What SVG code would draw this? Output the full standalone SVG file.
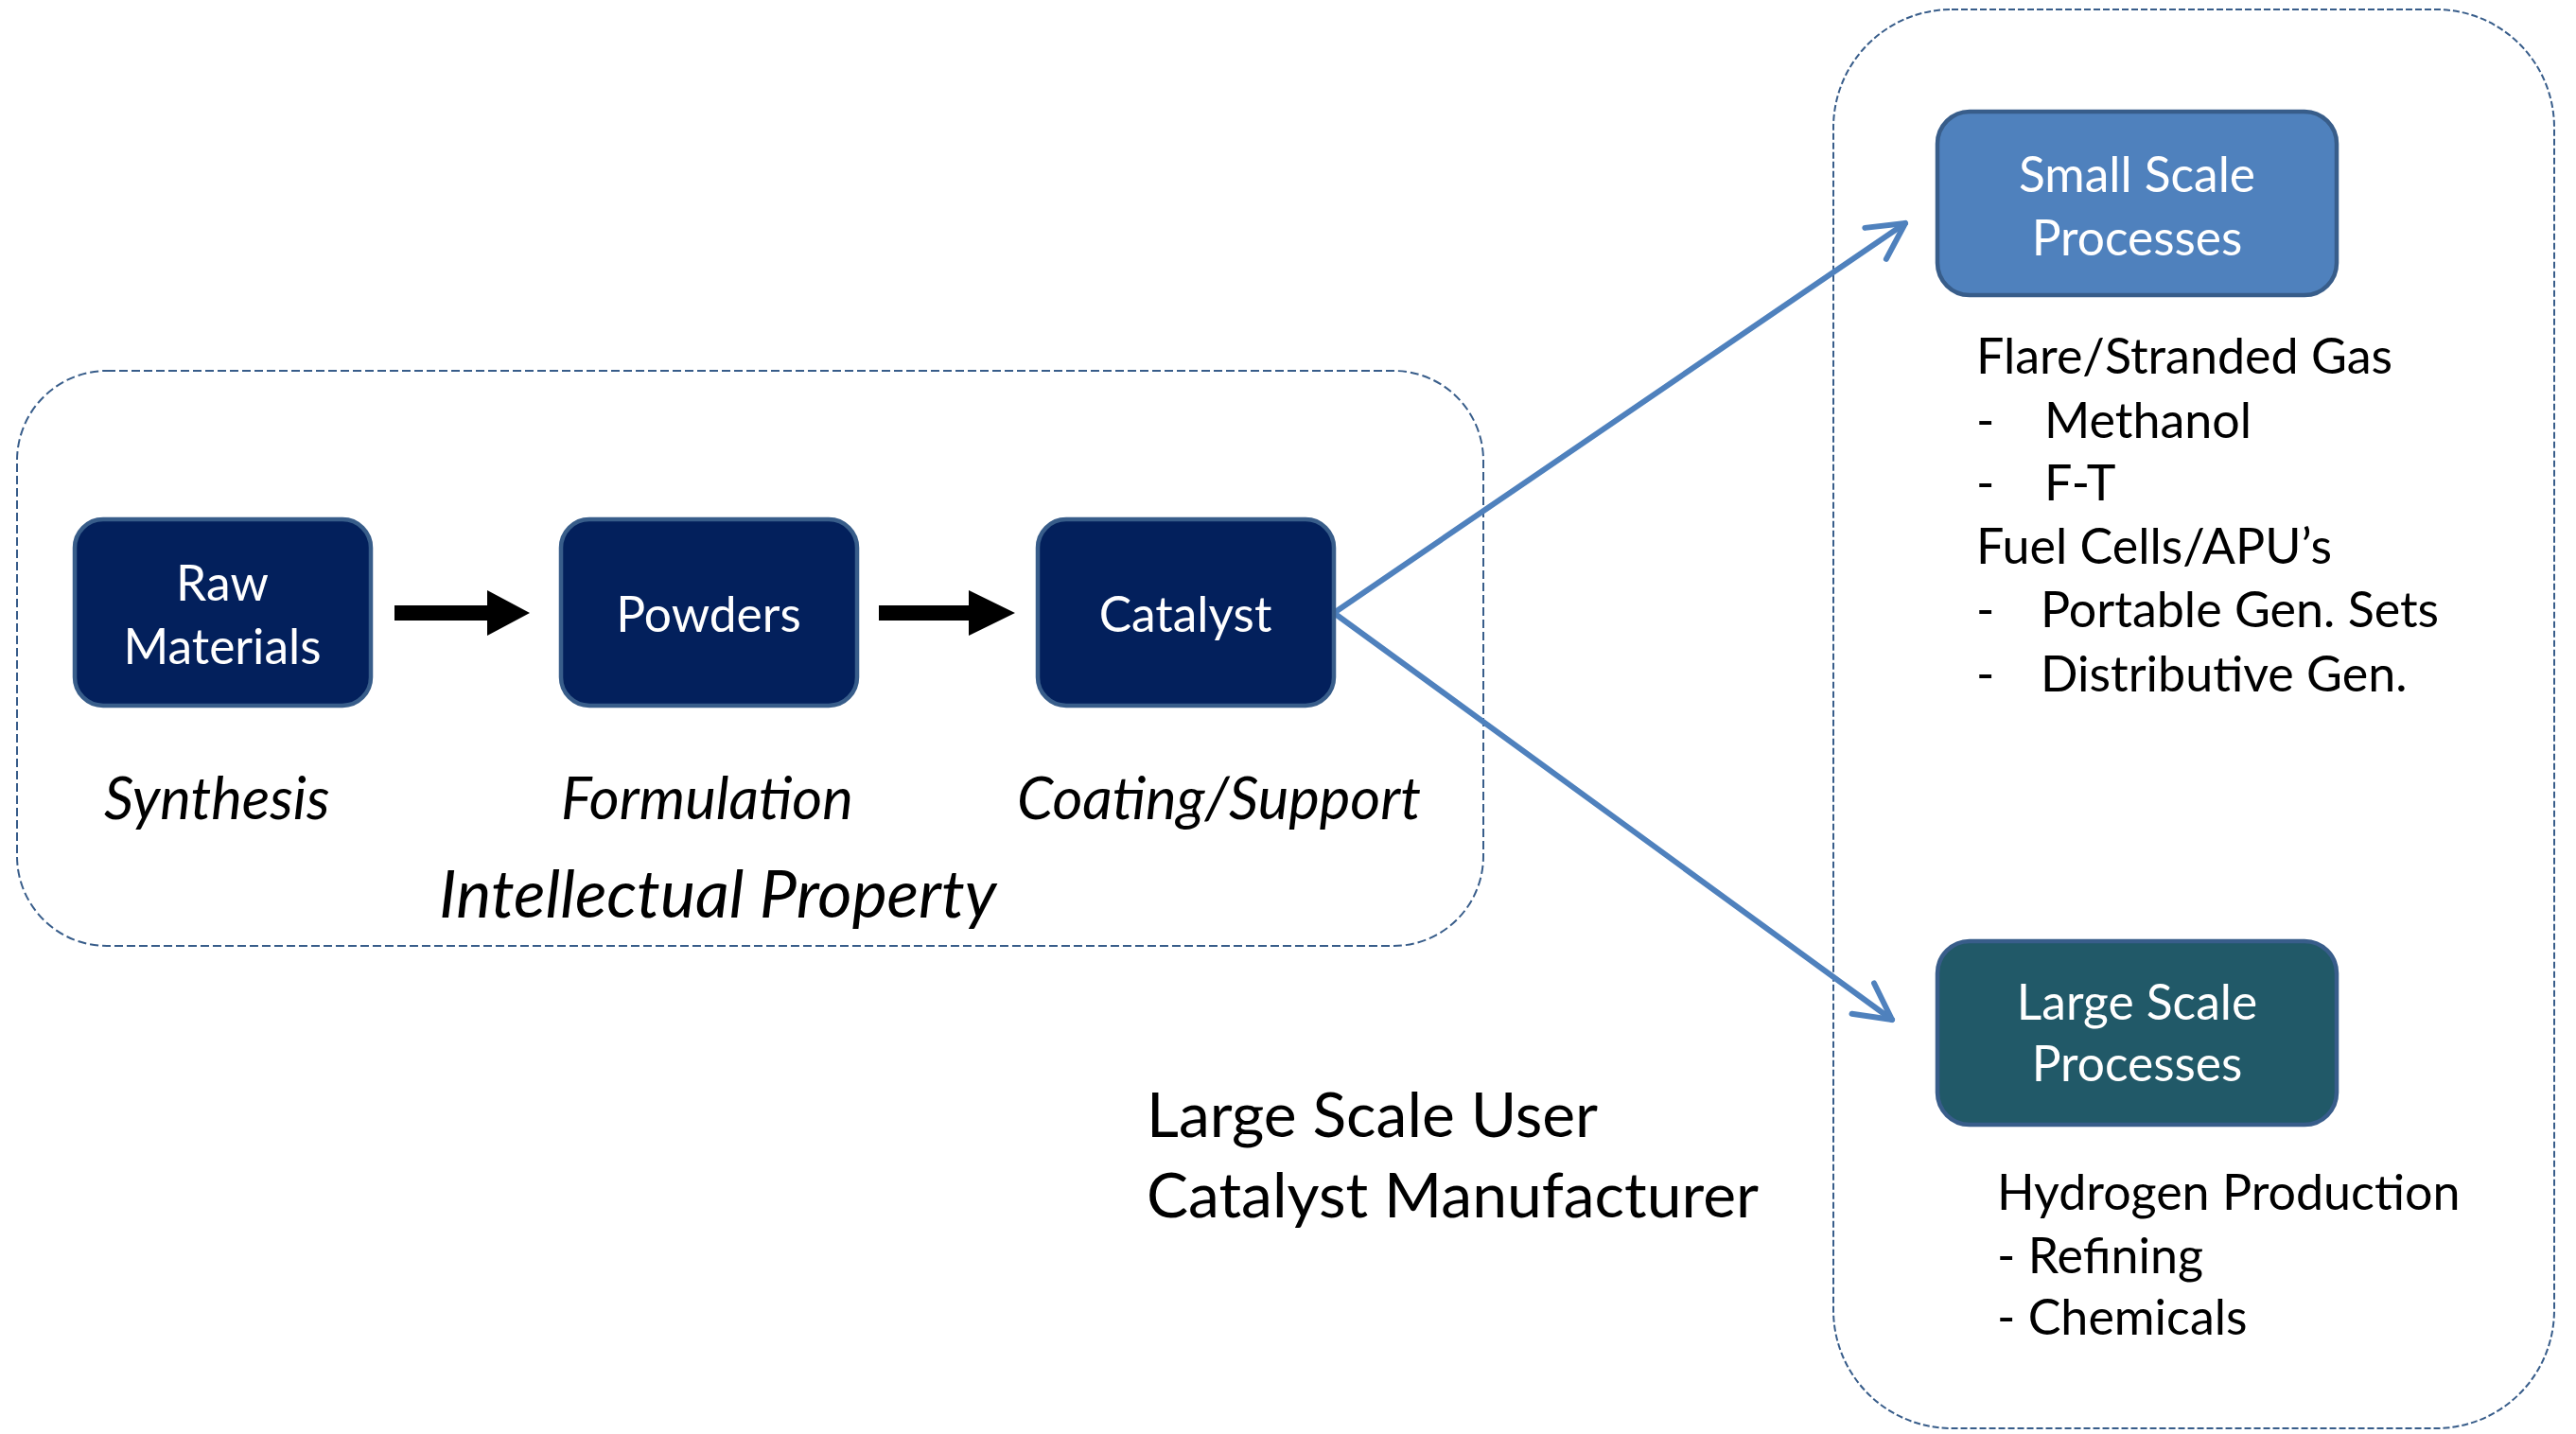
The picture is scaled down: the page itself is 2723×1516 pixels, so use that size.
<svg xmlns="http://www.w3.org/2000/svg" width="2723" height="1516" viewBox="0 0 2723 1516">
<defs>
<style>
.t{font-family:Lato,"Liberation Sans",sans-serif;}
.node{stroke:#385D8A;stroke-width:4.5;}
.navy{fill:#03205C;}
.wt{fill:#FFFFFF;font-size:51.5px;text-anchor:middle;}
.it{font-style:italic;font-size:61.5px;fill:#000;}
.bt{fill:#000;font-size:52px;}
.big{font-size:66px;}
.dash1{fill:none;stroke:#385D8A;stroke-width:2;stroke-dasharray:9 4;}
.dash2{fill:none;stroke:#385D8A;stroke-width:2;stroke-dasharray:7 3;}
.blue{fill:none;stroke:#4F81BD;stroke-width:6;stroke-linecap:round;}
</style>
<marker id="open" markerWidth="12" markerHeight="12" refX="10" refY="6" orient="auto" markerUnits="userSpaceOnUse" viewBox="0 0 12 12" overflow="visible">
<path d="M-28,-14 L10,6 L-28,26" fill="none" stroke="#4F81BD" stroke-width="6" stroke-linecap="round" stroke-linejoin="round"/>
</marker>
</defs>
<rect width="2723" height="1516" fill="#FFFFFF"/>
<g id="ip-group">
<rect class="dash1" x="18" y="392" width="1550" height="608" rx="95" ry="95"/>
<text class="t it" x="464" y="970" style="font-size:70px">Intellectual Property</text>
</g>
<g id="apps-group">
<rect class="dash2" x="1938" y="10" width="762" height="1500" rx="125" ry="125"/>
</g>
<g id="connectors">
<path d="M417,640 H515 V624 L560,648 L515,672 V656 H417 Z" fill="#000"/>
<path d="M929,640 H1024 V624 L1073,648 L1024,672 V656 H929 Z" fill="#000"/>
<line class="blue" x1="1410" y1="648" x2="2014" y2="236" marker-end="url(#open)"/>
<line class="blue" x1="1410" y1="648" x2="2000" y2="1078" marker-end="url(#open)"/>
</g>
<g id="raw-materials">
<rect class="node navy" x="79" y="549" width="313" height="197" rx="30"/>
<text class="t wt" x="235" y="635">Raw</text>
<text class="t wt" x="235" y="702">Materials</text>
<text class="t it" x="110" y="866">Synthesis</text>
</g>
<g id="powders">
<rect class="node navy" x="593" y="549" width="313" height="197" rx="30"/>
<text class="t wt" x="749" y="668">Powders</text>
<text class="t it" x="593" y="866">Formulation</text>
</g>
<g id="catalyst">
<rect class="node navy" x="1097" y="549" width="313" height="197" rx="30"/>
<text class="t wt" x="1253" y="668">Catalyst</text>
<text class="t it" x="1075" y="866">Coating/Support</text>
</g>
<g id="small-scale">
<rect class="node" fill="#4F81BD" x="2048" y="118" width="422" height="194" rx="34"/>
<text class="t wt" x="2259" y="203">Small Scale</text>
<text class="t wt" x="2259" y="270">Processes</text>
<text class="t bt" x="2089" y="395">Flare/Stranded Gas</text>
<text class="t bt" x="2089" y="463">-</text><text class="t bt" x="2161" y="463">Methanol</text>
<text class="t bt" x="2089" y="529">-</text><text class="t bt" x="2161" y="529">F-T</text>
<text class="t bt" x="2089" y="596">Fuel Cells/APU’s</text>
<text class="t bt" x="2089" y="663">-</text><text class="t bt" x="2157" y="663">Portable Gen. Sets</text>
<text class="t bt" x="2089" y="731">-</text><text class="t bt" x="2157" y="731">Distributive Gen.</text>
</g>
<g id="large-scale">
<rect class="node" fill="#215968" x="2048" y="995" width="422" height="194" rx="34"/>
<text class="t wt" x="2259" y="1078">Large Scale</text>
<text class="t wt" x="2259" y="1143">Processes</text>
<text class="t bt" x="2111" y="1279">Hydrogen Production</text>
<text class="t bt" x="2111" y="1346">- Refining</text>
<text class="t bt" x="2111" y="1411">- Chemicals</text>
</g>
<g id="manufacturer-label">
<text class="t bt big" x="1212" y="1202">Large Scale User</text>
<text class="t bt big" x="1212" y="1287">Catalyst Manufacturer</text>
</g>
</svg>
